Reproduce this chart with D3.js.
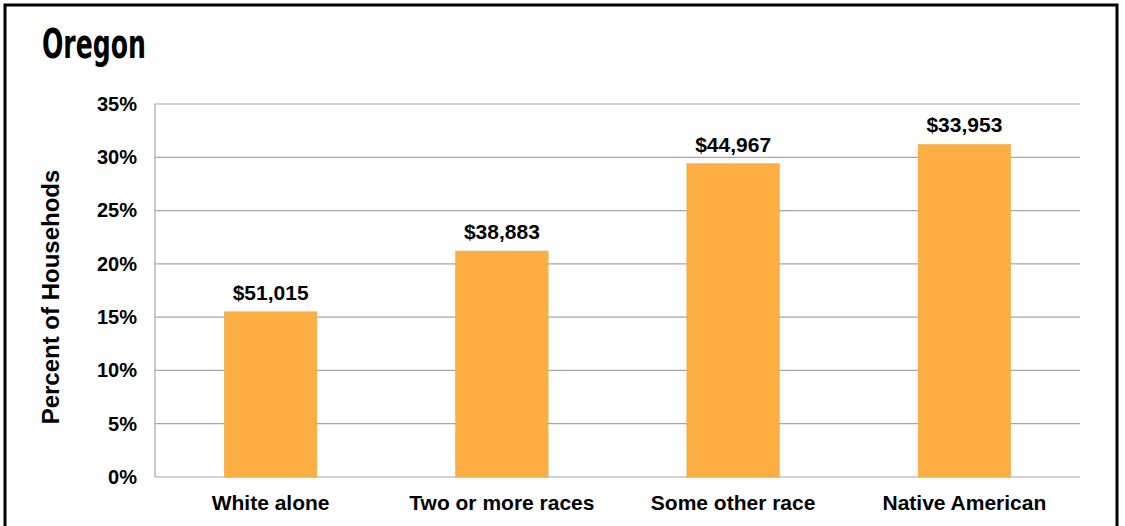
<!DOCTYPE html>
<html><head><meta charset="utf-8">
<script src="https://cdn.jsdelivr.net/npm/d3@7/dist/d3.min.js"></script>
<style>body{margin:0;background:#fff}svg{display:block}</style>
</head><body><svg id="c" width="1125" height="526"></svg>
<script>
const categories = ["White alone", "Two or more races", "Some other race", "Native American"];
const percentValues = [15.5, 21.2, 29.4, 31.2];
const incomeLabels = ["$51,015", "$38,883", "$44,967", "$33,953"];
const yTicks = [0, 5, 10, 15, 20, 25, 30, 35];
const title = "Oregon";
const yTitle = "Percent of Househods";

const svg = d3.select("#c");
const m = {left: 155, right: 1080, top: 104, bottom: 477};
const x = d3.scaleBand().domain(categories).range([m.left, m.right]).paddingInner(0.6).paddingOuter(0.3);
const y = d3.scaleLinear().domain([0, 35]).range([m.bottom, m.top]);
const F = "'Liberation Sans', Arial, sans-serif";

svg.append("rect").attr("x", 5).attr("y", 5).attr("width", 1112).attr("height", 530)
  .attr("fill", "#fff").attr("stroke", "#000").attr("stroke-width", 3);

svg.append("text").attr("x", 42).attr("y", 58).text(title)
  .attr("font-family", "'DejaVu Sans Condensed', 'DejaVu Sans', sans-serif")
  .attr("font-weight", "bold").attr("font-size", 40).attr("fill", "#000")
  .attr("textLength", 104).attr("lengthAdjust", "spacingAndGlyphs");

// grid
svg.append("g").selectAll("line").data(yTicks).join("line")
  .attr("x1", m.left).attr("x2", m.right).attr("y1", d => y(d)).attr("y2", d => y(d))
  .attr("stroke", "#a6a6a6").attr("stroke-width", 1.2);
svg.append("line").attr("x1", m.left).attr("x2", m.left).attr("y1", m.top).attr("y2", m.bottom)
  .attr("stroke", "#a6a6a6").attr("stroke-width", 1.2);

const yAxis = svg.append("g").attr("transform", `translate(${m.left},0)`)
  .call(d3.axisLeft(y).tickValues(yTicks).tickFormat(d => d + "%").tickSize(0).tickPadding(18));
yAxis.select(".domain").remove();
yAxis.selectAll("text").attr("font-family", F)
  .attr("font-weight", "bold").attr("font-size", 20).attr("fill", "#000");

const xAxis = svg.append("g").attr("transform", `translate(0,${m.bottom})`)
  .call(d3.axisBottom(x).tickSize(0).tickPadding(18));
xAxis.select(".domain").remove();
xAxis.selectAll("text").attr("font-family", F)
  .attr("font-weight", "bold").attr("font-size", 21).attr("fill", "#000");

svg.append("g").selectAll("rect").data(categories).join("rect")
  .attr("x", d => x(d)).attr("width", x.bandwidth())
  .attr("y", (d, i) => y(percentValues[i])).attr("height", (d, i) => y(0) - y(percentValues[i]))
  .attr("fill", "#fdae42").attr("stroke", "#e9a23c").attr("stroke-width", 0.5);

svg.append("g").selectAll("text").data(categories).join("text")
  .attr("x", d => x(d) + x.bandwidth() / 2).attr("y", (d, i) => y(percentValues[i]) - 12)
  .attr("text-anchor", "middle").text((d, i) => incomeLabels[i])
  .attr("font-family", F)
  .attr("font-weight", "bold").attr("font-size", 21).attr("fill", "#000");

svg.append("text").attr("transform", `translate(59,297) rotate(-90)`)
  .attr("text-anchor", "middle").text(yTitle)
  .attr("font-family", F)
  .attr("font-weight", "bold").attr("font-size", 24).attr("fill", "#000");
</script></body></html>
